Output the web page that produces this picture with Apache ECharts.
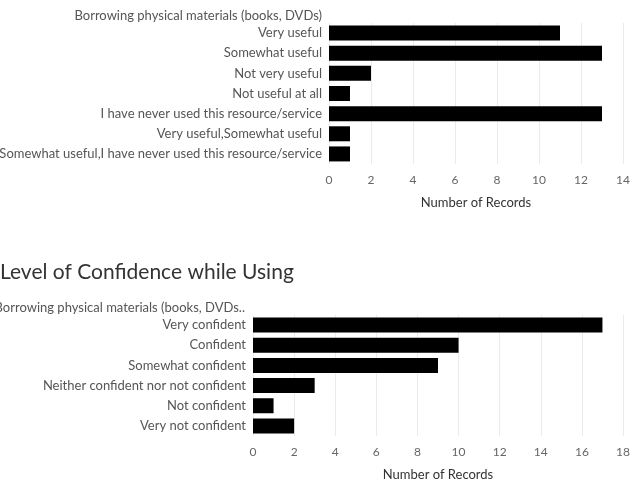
<!DOCTYPE html>
<html>
<head>
<meta charset="utf-8">
<script src="https://cdn.jsdelivr.net/npm/echarts@6/dist/echarts.min.js"></script>
<style>
  html, body { margin: 0; padding: 0; background: #fff; }
  #chart { width: 631px; height: 497px; }
</style>
</head>
<body>
<div id="chart"></div>
<script>
  // usefulness panel
  var usefulCategories = ['Very useful', 'Somewhat useful', 'Not very useful', 'Not useful at all',
    'I have never used this resource/service', 'Very useful,Somewhat useful',
    'Somewhat useful,I have never used this resource/service']
  var usefulValues = [11, 13, 2, 1, 13, 1, 1]
  var usefulTicks = [0, 2, 4, 6, 8, 10, 12, 14]

  // confidence panel
  var confCategories = ['Very confident', 'Confident', 'Somewhat confident',
    'Neither confident nor not confident', 'Not confident', 'Very not confident']
  var confValues = [17, 10, 9, 3, 1, 2]
  var confTicks = [0, 2, 4, 6, 8, 10, 12, 14, 16, 18]

  var font = 'Lato'
  var labelColor = '#555'

  function valueAxis (idx, ticks) {
    return {
      type: 'value',
      gridIndex: idx,
      min: ticks[0],
      max: ticks[ticks.length - 1],
      interval: 2,
      name: 'Number of Records',
      nameLocation: 'middle',
      nameGap: 32,
      nameTextStyle: { color: '#333', fontSize: 13, fontFamily: font },
      axisLine: { show: false },
      axisTick: { show: false },
      axisLabel: { color: '#666', fontSize: 12, fontFamily: font, margin: 10 },
      splitLine: { lineStyle: { color: '#ebebeb', width: 1 } }
    }
  }

  function catAxis (idx, cats) {
    return {
      type: 'category',
      gridIndex: idx,
      data: cats,
      inverse: true,
      axisLine: { show: false },
      axisTick: { show: false },
      axisLabel: { color: labelColor, fontSize: 13, fontFamily: font, margin: 7 }
    }
  }

  var chart = echarts.init(document.getElementById('chart'))
  chart.setOption({
    backgroundColor: '#fff',
    animation: false,
    title: [{
      text: 'Borrowing physical materials (books, DVDs)',
      right: 309,
      top: 9,
      padding: 0,
      textStyle: { color: labelColor, fontSize: 13, fontWeight: 'normal', fontFamily: font }
    }, {
      text: 'Level of Confidence while Using',
      left: 0,
      top: 262,
      padding: 0,
      textStyle: { color: '#333', fontSize: 21, fontWeight: 'normal', fontFamily: font }
    }, {
      text: 'Borrowing physical materials (books, DVDs..',
      right: 386,
      top: 301,
      padding: 0,
      textStyle: { color: labelColor, fontSize: 13, fontWeight: 'normal', fontFamily: font }
    }],
    grid: [
      { left: 329, right: 8, top: 23, height: 141, outerBoundsMode: 'none' },
      { left: 253, right: 8, top: 315, height: 121, outerBoundsMode: 'none' }
    ],
    xAxis: [valueAxis(0, usefulTicks), valueAxis(1, confTicks)],
    yAxis: [catAxis(0, usefulCategories), catAxis(1, confCategories)],
    series: [{
      type: 'bar',
      xAxisIndex: 0,
      yAxisIndex: 0,
      data: usefulValues,
      barWidth: 15,
      itemStyle: { color: '#000' }
    }, {
      type: 'bar',
      xAxisIndex: 1,
      yAxisIndex: 1,
      data: confValues,
      barWidth: 15,
      itemStyle: { color: '#000' }
    }]
  })
</script>
</body>
</html>
